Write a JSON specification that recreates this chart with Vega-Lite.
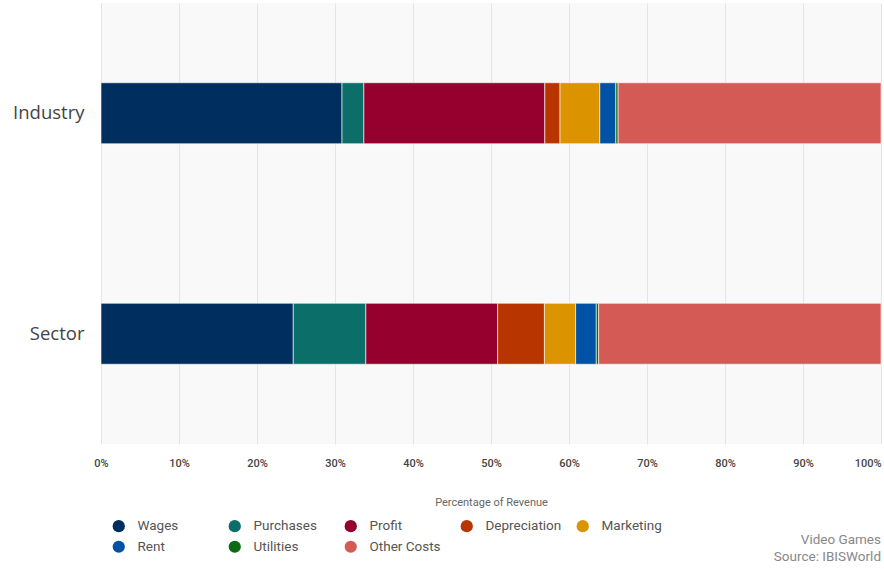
{
  "$schema": "https://vega.github.io/schema/vega-lite/v6.json",
  "width": 780,
  "height": 441,
  "autosize": {"type": "none"},
  "padding": {"left": 101, "top": 3, "right": 3, "bottom": 125},
  "background": "#ffffff",
  "view": {"fill": "#f9f9f9", "stroke": null},
  "title": {
    "text": "Video Games",
    "subtitle": "Source: IBISWorld",
    "orient": "bottom",
    "anchor": "end",
    "frame": "group",
    "font": "Roboto",
    "fontSize": 13.5,
    "fontWeight": "normal",
    "color": "#888888",
    "subtitleFont": "Roboto",
    "subtitleFontSize": 13.5,
    "subtitleColor": "#888888",
    "subtitlePadding": 3,
    "offset": -21
  },
  "data": {
    "values": [
      {"group": "Industry", "category": "Wages", "order": 1, "value": 30.9},
      {"group": "Industry", "category": "Purchases", "order": 2, "value": 2.8},
      {"group": "Industry", "category": "Profit", "order": 3, "value": 23.2},
      {"group": "Industry", "category": "Depreciation", "order": 4, "value": 1.95},
      {"group": "Industry", "category": "Marketing", "order": 5, "value": 5.1},
      {"group": "Industry", "category": "Rent", "order": 6, "value": 2.05},
      {"group": "Industry", "category": "Utilities", "order": 7, "value": 0.3},
      {"group": "Industry", "category": "Other Costs", "order": 8, "value": 33.7},
      {"group": "Sector", "category": "Wages", "order": 1, "value": 24.65},
      {"group": "Sector", "category": "Purchases", "order": 2, "value": 9.3},
      {"group": "Sector", "category": "Profit", "order": 3, "value": 16.9},
      {"group": "Sector", "category": "Depreciation", "order": 4, "value": 6.0},
      {"group": "Sector", "category": "Marketing", "order": 5, "value": 4.0},
      {"group": "Sector", "category": "Rent", "order": 6, "value": 2.65},
      {"group": "Sector", "category": "Utilities", "order": 7, "value": 0.3},
      {"group": "Sector", "category": "Other Costs", "order": 8, "value": 36.2}
    ]
  },
  "mark": {"type": "bar", "size": 61, "stroke": "#ffffff", "strokeWidth": 1, "strokeOpacity": 0.6},
  "encoding": {
    "y": {
      "field": "group",
      "type": "nominal",
      "sort": ["Industry", "Sector"],
      "scale": {"paddingInner": 0, "paddingOuter": 0},
      "axis": {
        "title": null,
        "domain": false,
        "ticks": false,
        "labelFont": "Open Sans",
        "labelFontSize": 18.5,
        "labelColor": "#444444",
        "labelPadding": 17
      }
    },
    "x": {
      "field": "value",
      "type": "quantitative",
      "stack": "zero",
      "scale": {"domain": [0, 100], "nice": false},
      "axis": {
        "title": "Percentage of Revenue",
        "titleFont": "Roboto",
        "titleFontSize": 11,
        "titleFontWeight": "normal",
        "titleColor": "#666666",
        "titlePadding": 28,
        "values": [0, 10, 20, 30, 40, 50, 60, 70, 80, 90, 100],
        "labelExpr": "datum.value + '%'",
        "labelFlush": false,
        "labelAlign": {"condition": {"test": "datum.value == 100", "value": "right"}, "value": "center"},
        "labelFont": "Roboto",
        "labelFontSize": 11,
        "labelFontWeight": 500,
        "labelColor": "#444444",
        "labelPadding": 13,
        "domain": false,
        "ticks": false,
        "grid": true,
        "gridColor": "#e2e5ef",
        "gridWidth": 1
      }
    },
    "color": {
      "field": "category",
      "type": "nominal",
      "scale": {
        "domain": ["Wages", "Purchases", "Profit", "Depreciation", "Marketing", "Rent", "Utilities", "Other Costs"],
        "range": ["#002f5f", "#0c6e69", "#96002e", "#b93500", "#db9400", "#0052a4", "#0c6b10", "#d45a56"]
      },
      "legend": {
        "title": null,
        "orient": "none",
        "legendX": 11,
        "legendY": 516,
        "direction": "horizontal",
        "columns": 5,
        "gridAlign": "all",
        "columnPadding": 14,
        "rowPadding": 6,
        "symbolType": "circle",
        "symbolSize": 150,
        "symbolStrokeWidth": 0,
        "labelOffset": 12,
        "labelFont": "Roboto",
        "labelFontSize": 13.5,
        "labelColor": "#555555",
        "labelLimit": 200
      }
    },
    "order": {"field": "order", "type": "quantitative"}
  }
}
